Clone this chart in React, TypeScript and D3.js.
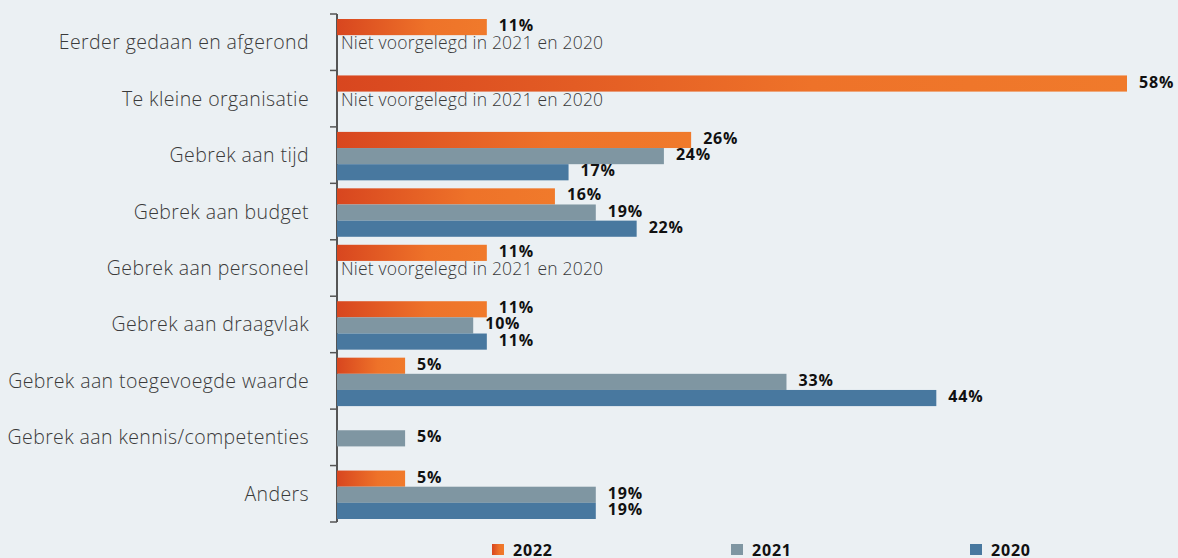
import React from "react";
import * as d3 from "d3";

const categories = [
  "Eerder gedaan en afgerond",
  "Te kleine organisatie",
  "Gebrek aan tijd",
  "Gebrek aan budget",
  "Gebrek aan personeel",
  "Gebrek aan draagvlak",
  "Gebrek aan toegevoegde waarde",
  "Gebrek aan kennis/competenties",
  "Anders",
];
const years = ["2022", "2021", "2020"];
const v2022: (number | null)[] = [11, 58, 26, 16, 11, 11, 5, null, 5];
const v2021: (number | null)[] = [null, null, 24, 19, null, 10, 33, 5, 19];
const v2020: (number | null)[] = [null, null, 17, 22, null, 11, 44, null, 19];
const notAsked = [true, true, false, false, true, false, false, false, false];
const notAskedText = "Niet voorgelegd in 2021 en 2020";

const W = 1178;
const H = 558;
const FONT = "'Open Sans', Lato, sans-serif";

export default function App() {
  const x = d3.scaleLinear().domain([0, 58]).range([337, 1127]);
  const y = d3.scaleBand<string>().domain(categories).range([14, 522]);
  const inner = d3.scaleBand<string>().domain(years).range([5, y.bandwidth() - 3]);
  const series = [v2022, v2021, v2020];
  const colors = ["url(#og)", "#7f96a2", "#48789f"];

  return (
    <svg width={W} height={H} style={{ position: "absolute", left: 0, top: 0, background: "#ebf0f3" }}>
      <defs>
        <linearGradient id="og" x1="0" y1="0" x2="1" y2="0">
          <stop offset="0" stopColor="#d8461f" />
          <stop offset="0.6" stopColor="#ee7229" />
          <stop offset="1" stopColor="#f07a2b" />
        </linearGradient>
      </defs>
      <rect x={0} y={0} width={W} height={H} fill="#ebf0f3" />
      <line x1={337} x2={337} y1={14} y2={522} stroke="#555" strokeWidth={2} />
      {d3.range(categories.length + 1).map((i) => {
        const yy = i < categories.length ? y(categories[i])! : 522;
        return <line key={i} x1={330} x2={337} y1={yy} y2={yy} stroke="#555" strokeWidth={1.5} />;
      })}
      {categories.map((c, ci) => {
        const y0 = y(c)!;
        return (
          <g key={c}>
            <text
              x={309}
              y={y0 + y.bandwidth() / 2 + 7}
              textAnchor="end"
              fontFamily={FONT}
              fontWeight={300}
              fontSize={19.5}
              letterSpacing={0.4}
              fill="#3a3a3a"
            >
              {c}
            </text>
            {series.map((s, si) => {
              const v = s[ci];
              if (v == null) return null;
              const by = y0 + inner(years[si])!;
              const bh = inner.bandwidth();
              return (
                <g key={si}>
                  <rect x={x(0)} y={by} width={x(v) - x(0)} height={bh} fill={colors[si]} />
                  <text
                    x={x(v) + 12}
                    y={by + bh / 2 + 4}
                    fontFamily={FONT}
                    fontWeight={700}
                    fontSize={16}
                    letterSpacing={0.8}
                    fill="#111"
                  >
                    {v}%
                  </text>
                </g>
              );
            })}
            {notAsked[ci] && (
              <text
                x={341}
                y={y0 + inner("2021")! + inner.bandwidth() / 2 + 6}
                fontFamily={FONT}
                fontWeight={300}
                fontSize={17.5}
                letterSpacing={0.2}
                fill="#3a3a3a"
              >
                {notAskedText}
              </text>
            )}
          </g>
        );
      })}
      {years.map((yr, i) => {
        const lx = 492 + i * 239;
        return (
          <g key={yr}>
            <rect x={lx} y={544} width={12} height={11} fill={colors[i]} />
            <text x={lx + 21} y={556} fontFamily={FONT} fontWeight={700} fontSize={16} letterSpacing={0.8} fill="#111">
              {yr}
            </text>
          </g>
        );
      })}
    </svg>
  );
}
